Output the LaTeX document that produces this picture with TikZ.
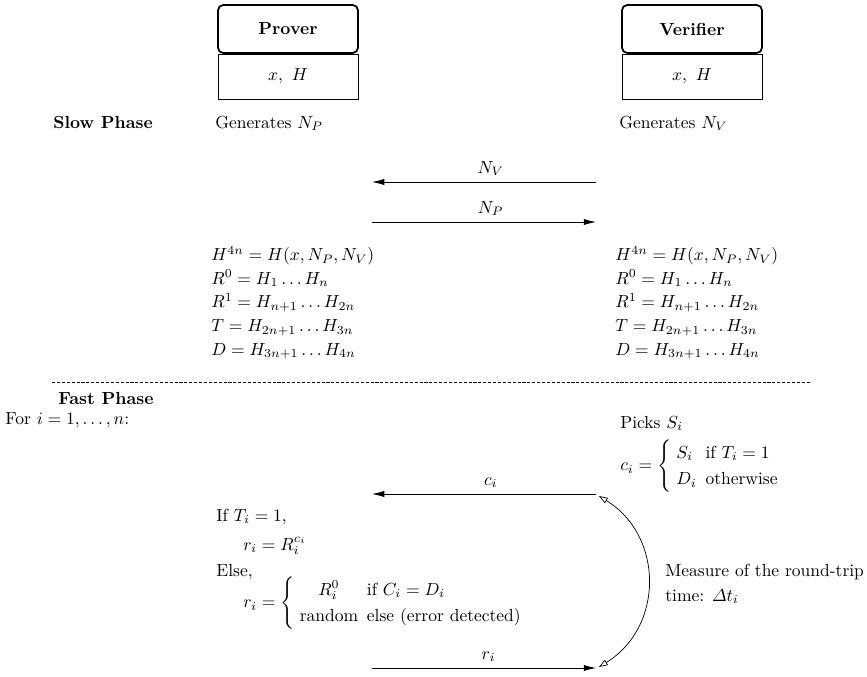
\documentclass[tikz,border=0pt]{standalone}
\usepackage{amsmath}
\usepackage{amssymb}
\usetikzlibrary{arrows.meta, positioning}
\begin{document}
\begin{tikzpicture}[
  x=0.5714pt, y=-0.5714pt,
  party/.style={rectangle, draw, line width=1pt, rounded corners=3pt, minimum width=80pt, minimum height=27.4pt, inner sep=0pt, font=\bfseries},
  keybox/.style={rectangle, draw, minimum width=80pt, minimum height=25.7pt, inner sep=0pt},
  txt/.style={inner sep=0pt, align=left},
  msg/.style={-{Latex[length=7pt, width=3.5pt]}},
  rtt/.style={{Triangle[open, length=5pt, width=3.5pt]}-{Triangle[open, length=5pt, width=3.5pt]}},
  sep/.style={dash pattern=on 1.8pt off 1pt}
]
  \useasboundingbox (0,0) rectangle (867,677);

  \node[party] (prover) at (288,29) {Prover};
  \node[keybox, below=0pt of prover] (pkey) {$x,\ H$};
  \node[party] (verifier) at (692,29) {Verifier};
  \node[keybox, below=0pt of verifier] (vkey) {$x,\ H$};

  \node[txt, anchor=base west, font=\bfseries] (slow) at (53,128) {Slow Phase};
  \node[txt, anchor=base west] (pgen) at (215,128) {Generates $N_P$};
  \node[txt, anchor=base west] (vgen) at (619,128) {Generates $N_V$};

  \coordinate (nvfrom) at (596,182);
  \coordinate (nvto) at (372,182);
  \coordinate (npfrom) at (372,222);
  \coordinate (npto) at (596,222);
  \draw[msg] (nvfrom) -- node[above, pos=0.47] (nvlab) {$N_V$} (nvto);
  \draw[msg] (npfrom) -- node[above, pos=0.53] (nplab) {$N_P$} (npto);

  \node[txt, anchor=north west] (pderiv) at (211,246) {$H^{4n} = H(x, N_P, N_V)$\\[1.5pt] $R^0 = H_1 \dots H_n$\\[1.5pt] $R^1 = H_{n+1} \dots H_{2n}$\\[1.5pt] $T = H_{2n+1} \dots H_{3n}$\\[1.5pt] $D = H_{3n+1} \dots H_{4n}$};
  \node[txt, anchor=north west] (vderiv) at (615,246) {$H^{4n} = H(x, N_P, N_V)$\\[1.5pt] $R^0 = H_1 \dots H_n$\\[1.5pt] $R^1 = H_{n+1} \dots H_{2n}$\\[1.5pt] $T = H_{2n+1} \dots H_{3n}$\\[1.5pt] $D = H_{3n+1} \dots H_{4n}$};

  \coordinate (sepl) at (52,382);
  \coordinate (sepr) at (810,382);
  \draw[sep] (sepl) -- (sepr);

  \node[txt, anchor=base west, font=\bfseries] (fast) at (58,404) {Fast Phase};
  \node[txt, anchor=base west] (loop) at (5,424) {For $i = 1, \dots, n$:};

  \node[txt, anchor=base west] (vpick) at (620,428) {Picks $S_i$};
  \node[txt, anchor=west] (vcase) at (620,466) {\renewcommand{\arraystretch}{1.25}$c_i = \left\{\begin{array}{@{\hspace{3pt}}l@{\hspace{5pt}}l@{}} S_i & \text{if } T_i = 1\\ D_i & \text{otherwise} \end{array}\right.$};

  \coordinate (cfrom) at (596,494);
  \coordinate (cto) at (372,494);
  \coordinate (rfrom) at (372,668);
  \coordinate (rto) at (596,668);
  \draw[msg] (cfrom) -- node[above, pos=0.47] (clab) {$c_i$} (cto);
  \draw[msg] (rfrom) -- node[above, pos=0.52] (rlab) {$r_i$} (rto);

  \node[txt, anchor=base west] (pif) at (216,521) {If $T_i = 1$,};
  \node[txt, anchor=base west] (presp1) at (243,550) {$r_i = R_i^{c_i}$};
  \node[txt, anchor=base west] (pelse) at (216,576) {Else,};
  \node[txt, anchor=west] (presp2) at (243,603) {\renewcommand{\arraystretch}{1.25}$r_i = \left\{\begin{array}{@{\hspace{3pt}}c@{\hspace{5pt}}l@{}} R_i^0 & \text{if } C_i = D_i\\ \text{random} & \text{else (error detected)} \end{array}\right.$};

  \coordinate (tsent) at (599,496);
  \coordinate (trecv) at (599,667);
  \draw[rtt] (tsent) .. controls (664,536) and (664,627) .. (trecv);
  \node[txt, anchor=north west] (rtime) at (665,564) {Measure of the round-trip\\[2pt] time: $\varDelta t_i$};
\end{tikzpicture}
\end{document}
